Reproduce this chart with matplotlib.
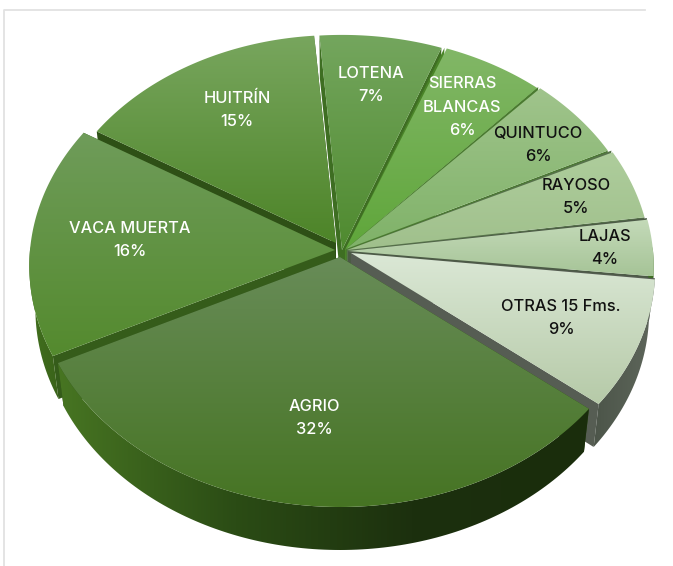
#!/usr/bin/env python3

import numpy as np
import matplotlib.pyplot as plt
from matplotlib.colors import LinearSegmentedColormap
from matplotlib.patches import Polygon

plt.rcParams['font.family'] = ['Inter', 'DejaVu Sans']

names = ["LOTENA", "SIERRAS\nBLANCAS", "QUINTUCO", "RAYOSO", "LAJAS",
         "OTRAS 15 Fms.", "AGRIO", "VACA MUERTA", "HUITRÍN"]
values = [7, 6, 6, 5, 4, 9, 32, 16, 15]

# layout, one entry per slice
centers = [(342, 250), (345, 250), (346, 249), (347, 250), (348, 251),
           (351, 253), (340, 257), (335, 250), (336, 243)]
radii = [0.985, 0.985, 0.985, 0.995, 1.0, 0.995, 1.0, 1.0, 0.95]
gaps = [0.0, 0.5, 0.5, 0.5, 0.4, 0.3, 0.0, 0.0, 0.0]
top_colors = [("#74a65e", "#4f8a2f"), ("#82b767", "#5fa63a"), ("#a0c48c", "#7fb268"),
              ("#aecd9c", "#a0c08c"), ("#c4dab9", "#a6c497"), ("#dbe8d6", "#b6caa8"),
              ("#688c58", "#467423"), ("#6f9c5a", "#548a2e"), ("#78a65e", "#4d8428")]
wall_colors = ["#3e6e22", "#4a8428", "#4a7a30", "#56724a", "#4c5a46",
               "#565d53", "#2c4f14", "#355c1a", "#2e5016"]
rim_colors = [("#3e6e22", "#3e6e22")] * 5 + [("#4c5549", "#5f675c"),
              ("#477522", "#2b4c15", "#1c300e", "#1a2d0c"), ("#42701f", "#3a6319"), ("#2e5016", "#2e5016")]
text_colors = ["white", "white", "#111111", "#111111", "#111111", "#111111",
               "white", "white", "white"]
label_pos = [(371, 85), (462, 107), (538, 145), (576, 197), (605, 248),
             (561, 318), (314, 418), (130, 240), (237, 110)]
draw_order = [8, 0, 1, 2, 3, 4, 7, 5, 6]

start_deg = -4.6
rx, ry = 305, 233
persp = 0.068
depth = 43
taper = 0.98


def project(theta, r, center):
    u = np.sin(theta) * r
    v = -np.cos(theta) * r
    s = 1 / (1 - persp * v)
    return center[0] + rx * u * s, center[1] + ry * v * s


def gradient_fill(ax, pts, colors, vertical=True, zorder=1):
    pts = np.asarray(pts)
    patch = Polygon(pts, closed=True, facecolor="none", edgecolor="none")
    ax.add_patch(patch)
    cmap = LinearSegmentedColormap.from_list("g", colors)
    ramp = np.linspace(0, 1, 256)
    ramp = ramp[:, None] if vertical else ramp[None, :]
    im = ax.imshow(ramp, cmap=cmap, vmin=0, vmax=1, aspect="auto", origin="upper",
                   extent=(pts[:, 0].min(), pts[:, 0].max(), pts[:, 1].max(), pts[:, 1].min()),
                   interpolation="bilinear", zorder=zorder)
    im.set_clip_path(patch)


fig = plt.figure(figsize=(6.73, 5.66), dpi=100)
ax = fig.add_axes([0, 0, 1, 1])

edges = np.radians(start_deg + np.concatenate([[0], np.cumsum(values)]) * 3.6)

z = 1
for i in draw_order:
    c = centers[i]
    arc = np.linspace(edges[i], edges[i + 1], 120)
    ax_x, ax_y = project(arc, radii[i], c)
    face = np.linspace(edges[i] + np.radians(gaps[i]), edges[i + 1], 120)
    face_x, face_y = project(face, radii[i], c)
    top = np.column_stack([np.r_[c[0], face_x], np.r_[c[1], face_y]])

    # the bottom of the solid is a bit narrower than its top
    low_x = c[0] + (ax_x - c[0]) * taper

    # radial walls first, then the outer rim, then the top face
    for k in (0, -1):
        wall = [(c[0], c[1]), (ax_x[k], ax_y[k]), (low_x[k], ax_y[k] + depth), (c[0], c[1] + depth)]
        ax.add_patch(Polygon(wall, closed=True, facecolor=wall_colors[i], edgecolor="none", zorder=z))
    z += 1
    front = -np.cos(arc) > -0.02
    if front.any():
        rim = np.column_stack([np.r_[ax_x[front], low_x[front][::-1]],
                               np.r_[ax_y[front], ax_y[front][::-1] + depth]])
        gradient_fill(ax, rim, rim_colors[i], vertical=False, zorder=z)
        z += 1
    gradient_fill(ax, top, top_colors[i], zorder=z)
    z += 1

for i, name in enumerate(names):
    ax.text(label_pos[i][0], label_pos[i][1], f"{name}\n{values[i]}%", ha="center", va="center",
            fontsize=11.8, fontweight="medium", color=text_colors[i], linespacing=1.7, zorder=z)

# frame of the screenshot
ax.plot([4, 4, 645], [566, 10, 10], color="#e2e2e2", lw=1.3, zorder=0)

ax.set_xlim(0, 673)
ax.set_ylim(566, 0)
ax.axis("off")
fig.savefig("out.png", dpi=100)
